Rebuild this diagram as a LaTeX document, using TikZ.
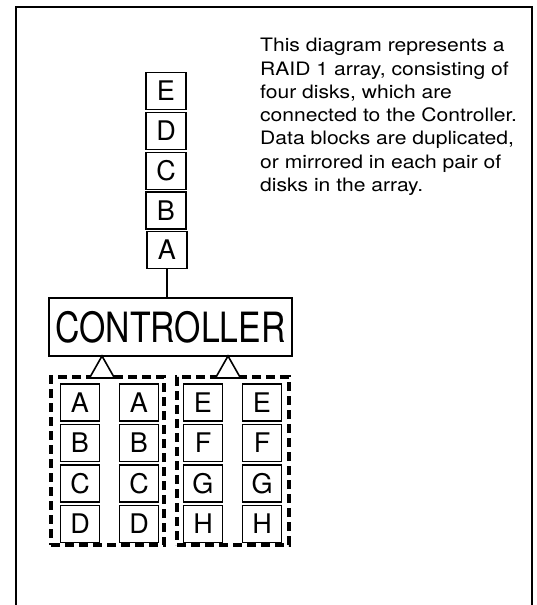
\documentclass[tikz,border=0pt]{standalone}
\usepackage{fontspec}
\setmainfont{TeX Gyre Heros}
\newfontfamily\parafont[FakeStretch=1.14]{TeX Gyre Heros}
\newfontfamily\ctrlfont[FakeStretch=0.81]{TeX Gyre Heros}
\begin{document}
\begin{tikzpicture}[x=1pt,y=-1pt,
  blk/.style={draw, line width=1.6pt, minimum width=39pt, minimum height=37pt, inner sep=0pt, font=\fontsize{27}{27}\selectfont},
  grp/.style={draw, line width=3.5pt, dash pattern=on 9pt off 5pt, inner sep=0pt},
  tri/.style={draw, line width=1.6pt, fill=white},
  para/.style={anchor=base west, inner sep=0pt, font=\parafont\fontsize{18.5}{23}\selectfont}]
\useasboundingbox (0,0) rectangle (536,605);
% outer frame (open at the bottom)
\draw[line width=1.4pt] (16,607) -- (16,7) -- (532,7) -- (532,607);

% description text
\node[para] (l1) at (260,51.7) {This diagram represents a};
\node[para] (l2) at (260,75.0) {RAID 1 array, consisting of};
\node[para] (l3) at (260,98.3) {four disks, which are};
\node[para] (l4) at (260,121.6) {connected to the Controller.};
\node[para] (l5) at (260,144.9) {Data blocks are duplicated,};
\node[para] (l6) at (260,168.2) {or mirrored in each pair of};
\node[para] (l7) at (260,191.5) {disks in the array.};

% incoming stack
\node[blk, minimum width=40pt] (sE) at (166,91) {E};
\node[blk, minimum width=40pt] (sD) at (166,131) {D};
\node[blk, minimum width=40pt] (sC) at (166,171) {C};
\node[blk, minimum width=40pt] (sB) at (166,210.5) {B};
\node[blk, minimum width=40pt] (sA) at (167,250) {A};

% controller
\node[draw, line width=1.6pt, minimum width=243pt, minimum height=58pt, inner sep=0pt,
      font=\ctrlfont\fontsize{41.7}{42}\selectfont] (ctrl) at (170.5,327) {CONTROLLER};
\draw[line width=1.6pt] (sA.south) -- (sA.south |- ctrl.north);

% mirrored groups
\node[grp, minimum width=113pt, minimum height=168pt] (g1) at (107.5,461) {};
\node[grp, minimum width=112pt, minimum height=168pt] (g2) at (233,461) {};

% connection triangles
\coordinate (t1) at (102,356);
\coordinate (t2) at (228,356);
\draw[tri] (t1) -- ++(-12.5,22) -- ++(25,0) -- cycle;
\draw[tri] (t2) -- ++(-12.5,22) -- ++(25,0) -- cycle;

% disk blocks
\foreach \c/\x/\la/\lb/\lc/\ld in {1/80/A/B/C/D, 2/139/A/B/C/D, 3/203/E/F/G/H, 4/262/E/F/G/H}{
  \node[blk] (d\c a) at (\x,402.5) {\la};
  \node[blk] (d\c b) at (\x,443) {\lb};
  \node[blk] (d\c c) at (\x,483.5) {\lc};
  \node[blk] (d\c d) at (\x,524) {\ld};
}
\end{tikzpicture}
\end{document}
